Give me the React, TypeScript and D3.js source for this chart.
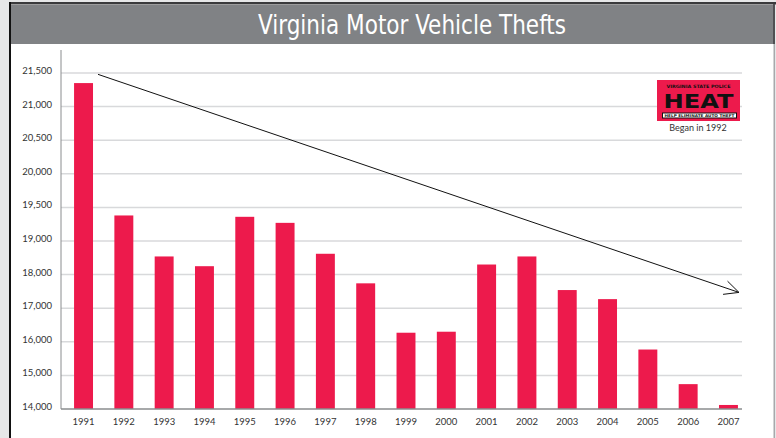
import { useEffect, useRef } from 'react'
import * as d3 from 'd3'

// data
const years = ['1991', '1992', '1993', '1994', '1995', '1996', '1997', '1998', '1999',
  '2000', '2001', '2002', '2003', '2004', '2005', '2006', '2007']
const thefts = [21350, 19380, 18540, 18250, 19360, 19270, 18620, 17740, 16270,
  16300, 18300, 18540, 17540, 17270, 15770, 14740, 14120]
// the axis labels are not evenly spaced in value, but the gridlines are evenly spaced
const yTicks = [14000, 15000, 16000, 17000, 18000, 19000, 19500, 20000, 20500, 21000, 21500]
const title = 'Virginia Motor Vehicle Thefts'
const logoCaption = 'Began in 1992'

const W = 776
const H = 438
const RED = '#ed1a4c'
const FONT = 'Lato, "Liberation Sans", sans-serif'

export default function App() {
  const svgRef = useRef<SVGSVGElement>(null)

  useEffect(() => {
    const svg = d3.select(svgRef.current)
    svg.selectAll('*').remove()

    //frame
    svg.append('rect').attr('width', W).attr('height', H).attr('fill', '#e6e7e8')
    svg.append('rect').attr('x', 10).attr('y', 4).attr('width', 764).attr('height', H - 4).attr('fill', '#fff')
    svg.append('rect').attr('x', 11).attr('y', 5).attr('width', 762).attr('height', 39).attr('fill', '#808285')
    svg.append('rect').attr('x', 9).attr('y', 2).attr('width', W - 9).attr('height', 2.5).attr('fill', '#3a3a3c')
    svg.append('rect').attr('x', 9).attr('y', 2).attr('width', 2).attr('height', H).attr('fill', '#111')
    svg.append('rect').attr('x', 773).attr('y', 4).attr('width', 2).attr('height', 40).attr('fill', '#505053')
    svg.append('rect').attr('x', 773.5).attr('y', 44).attr('width', 1.5).attr('height', H).attr('fill', '#a7a9ac')

    svg.append('text')
      .attr('x', 412).attr('y', 34)
      .attr('text-anchor', 'middle')
      .attr('fill', '#fff')
      .attr('font-family', '"Liberation Sans Narrow", "DejaVu Sans Condensed", sans-serif')
      .attr('font-size', 27)
      .attr('textLength', 308)
      .attr('lengthAdjust', 'spacingAndGlyphs')
      .text(title)

    //scales
    const x = d3.scaleBand()
      .domain(years)
      .range([66, 746])
      .paddingInner(0.53)
      .paddingOuter(0.2)
    const y = d3.scaleLinear()
      .domain(yTicks)
      .range(yTicks.map((_, i) => 409 - i * 33.6))

    const left = 61
    const right = 742

    //gridlines + labels
    const g = svg.append('g')
    g.selectAll('line.grid')
      .data(yTicks.slice(1))
      .join('line')
      .attr('x1', left).attr('x2', right)
      .attr('y1', d => y(d)).attr('y2', d => y(d))
      .attr('stroke', '#d8d9db')
      .attr('stroke-width', 1.5)
    g.selectAll('text.ylab')
      .data(yTicks)
      .join('text')
      .attr('x', 52)
      .attr('y', d => y(d) + 1)
      .attr('text-anchor', 'end')
      .attr('font-family', FONT)
      .attr('font-size', 9.5)
      .attr('fill', '#333')
      .text(d => d3.format(',')(d))

    //bars
    svg.selectAll('rect.bar')
      .data(thefts)
      .join('rect')
      .attr('x', (_, i) => x(years[i])!)
      .attr('y', d => y(d))
      .attr('width', x.bandwidth())
      .attr('height', d => y(yTicks[0]) - y(d))
      .attr('fill', RED)

    //axes lines
    svg.append('line')
      .attr('x1', left).attr('x2', left).attr('y1', 50).attr('y2', y(yTicks[0]))
      .attr('stroke', '#8a8c8e').attr('stroke-width', 1)
    svg.append('line')
      .attr('x1', left).attr('x2', right).attr('y1', y(yTicks[0])).attr('y2', y(yTicks[0]))
      .attr('stroke', '#8a8c8e').attr('stroke-width', 1.5)

    svg.selectAll('text.xlab')
      .data(years)
      .join('text')
      .attr('x', d => x(d)! + x.bandwidth() / 2)
      .attr('y', 425)
      .attr('text-anchor', 'middle')
      .attr('font-family', FONT)
      .attr('font-size', 9.5)
      .attr('fill', '#333')
      .text(d => d)

    //trend arrow
    const x0 = x('1991')! + x.bandwidth() + 5
    const y0 = y(21480)
    const x1 = x('2007')! + x.bandwidth() + 1
    const y1 = y(17470)
    svg.append('line')
      .attr('x1', x0).attr('y1', y0).attr('x2', x1).attr('y2', y1)
      .attr('stroke', '#111').attr('stroke-width', 1)
    const ang = Math.atan2(y1 - y0, x1 - x0)
    const len = 16
    const spread = 0.45
    svg.append('path')
      .attr('d', `M${x1 - len * Math.cos(ang - spread)},${y1 - len * Math.sin(ang - spread)}L${x1},${y1}L${x1 - len * Math.cos(ang + spread)},${y1 - len * Math.sin(ang + spread)}`)
      .attr('fill', 'none')
      .attr('stroke', '#111').attr('stroke-width', 1)

    //HEAT logo
    const logo = svg.append('g').attr('transform', 'translate(657,80)')
    logo.append('rect').attr('width', 83).attr('height', 41).attr('fill', RED)
    logo.append('text')
      .attr('x', 41.5).attr('y', 7.5)
      .attr('text-anchor', 'middle')
      .attr('font-family', '"DejaVu Sans", sans-serif')
      .attr('font-weight', 'bold')
      .attr('font-size', 4.5)
      .attr('textLength', 64)
      .attr('lengthAdjust', 'spacingAndGlyphs')
      .attr('fill', '#111')
      .text('VIRGINIA STATE POLICE')
    logo.append('text')
      .attr('x', 41.5).attr('y', 28)
      .attr('text-anchor', 'middle')
      .attr('font-family', '"DejaVu Sans", sans-serif')
      .attr('font-weight', 'bold')
      .attr('font-size', 20)
      .attr('textLength', 70)
      .attr('lengthAdjust', 'spacingAndGlyphs')
      .attr('fill', '#111')
      .text('HEAT')
    logo.append('rect').attr('x', 5).attr('y', 32.5).attr('width', 75).attr('height', 6).attr('fill', '#111')
    logo.append('rect').attr('x', 6).attr('y', 33.5).attr('width', 73).attr('height', 4).attr('fill', '#fff')
    logo.append('text')
      .attr('x', 42.5).attr('y', 37)
      .attr('text-anchor', 'middle')
      .attr('font-family', '"DejaVu Sans", sans-serif')
      .attr('font-weight', 'bold')
      .attr('font-size', 3.8)
      .attr('textLength', 70)
      .attr('lengthAdjust', 'spacingAndGlyphs')
      .attr('fill', '#111')
      .text('HELP ELIMINATE AUTO THEFT')
    svg.append('text')
      .attr('x', 698).attr('y', 131)
      .attr('text-anchor', 'middle')
      .attr('font-family', FONT)
      .attr('font-size', 9)
      .attr('fill', '#333')
      .text(logoCaption)
  }, [])

  return (
    <svg ref={svgRef} width={W} height={H}
      style={{ position: 'absolute', left: 0, top: 0, display: 'block' }} />
  )
}
